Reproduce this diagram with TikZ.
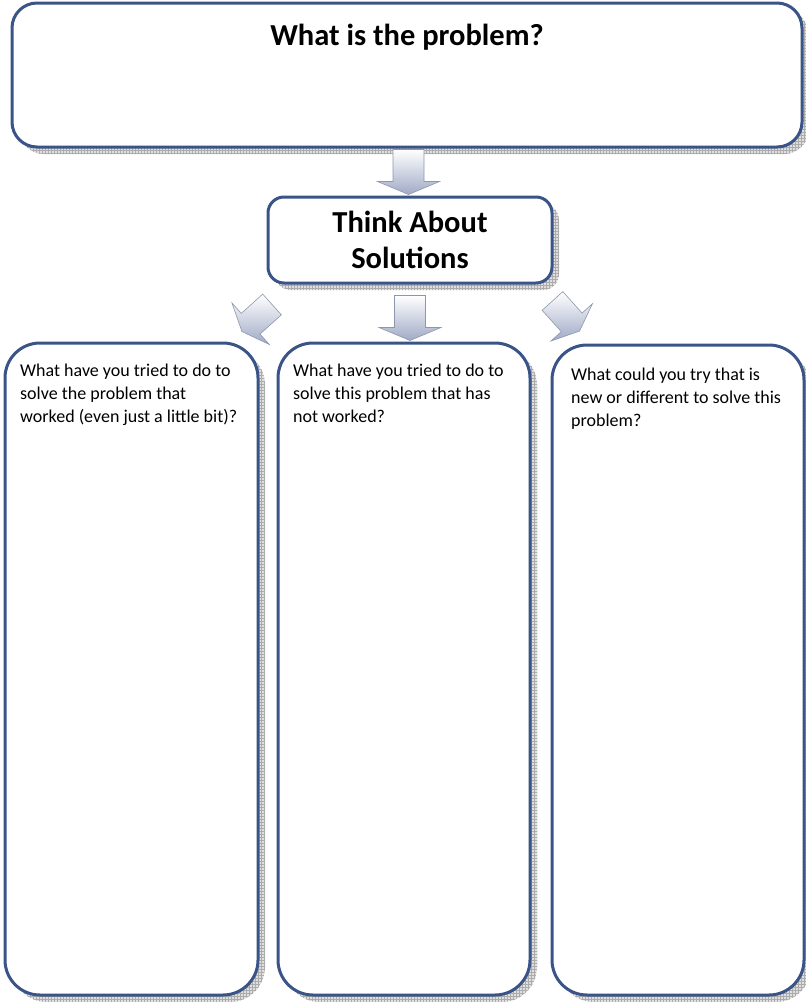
\documentclass[tikz,border=0pt]{standalone}
\usepackage{fontspec}
\setmainfont{Carlito}
\usetikzlibrary{positioning,shadows,patterns,calc}
\definecolor{boxblue}{RGB}{59,84,135}
\definecolor{arrowblue}{RGB}{160,170,198}
\definecolor{arrowedge}{RGB}{140,150,172}
\tikzset{
  sheet/.style={draw=boxblue, line width=3pt, fill=white, inner sep=0pt, outer sep=0pt,
    rounded corners=#1,
    general shadow={fill=gray!25, shadow xshift=7pt, shadow yshift=-7pt},
    general shadow={pattern=grid, pattern color=gray!65, shadow xshift=7pt, shadow yshift=-7pt}},
  sheet/.default=35pt,
  blockarrow/.pic={
    \path[draw=arrowedge, line width=0.6pt, top color=white, bottom color=arrowblue]
      (-22.5,-15.5) -- (9.5,-15.5) -- (9.5,-31) -- (22.5,0) -- (9.5,31)
      -- (9.5,15.5) -- (-22.5,15.5) -- cycle;
  },
  question/.style={anchor=north west, inner sep=0pt, align=left,
    font=\fontsize{18}{23}\selectfont},
}
\begin{document}
\begin{tikzpicture}[x=1pt,y=-1pt]
  \useasboundingbox (0,0) rectangle (806,1002);

  % Boxes
  \node[sheet=25pt, minimum width=790pt, minimum height=144pt] (problem) at (407,75) {};
  \node[sheet=16pt, minimum width=284pt, minimum height=86pt, align=center,
    font=\fontsize{30.5}{36}\selectfont\bfseries] (think) at (410,240) {Think About\\Solutions};
  \node[sheet, minimum width=253pt, minimum height=652pt] (worked) at (131.5,669) {};
  \node[sheet, minimum width=252pt, minimum height=652pt] (notworked) at (404,669) {};
  \node[sheet, minimum width=252pt, minimum height=650pt] (newtry) at (678,670) {};

  % Title
  \node[anchor=base, inner sep=0pt, font=\fontsize{30.5}{36}\selectfont\bfseries]
    (problemtitle) at ($(problem.north)+(0,42)$) {What is the problem?};

  % Questions
  \node[question] (workedtext) at ($(worked.north west)+(15,21)$)
    {What have you tried to do to\\solve the problem that\\worked (even just a little bit)?};
  \node[question] (notworkedtext) at ($(notworked.north west)+(15,21)$)
    {What have you tried to do to\\solve this problem that has\\not worked?};
  \node[question] (newtrytext) at ($(newtry.north west)+(19,23)$)
    {What could you try that is\\new or different to solve this\\problem?};

  % Block arrows
  \pic[rotate=270] (downone) at ($(problem.south)!.5!(think.north)$) {blockarrow};
  \pic[rotate=270] (downtwo) at ($(think.south)+(0,35)$) {blockarrow};
  \pic[rotate=222, scale=0.9] (downleft) at ($(think.south west)+(-11,35)$) {blockarrow};
  \pic[rotate=312, scale=0.9] (downright) at ($(think.south east)+(14,33)$) {blockarrow};
\end{tikzpicture}
\end{document}
